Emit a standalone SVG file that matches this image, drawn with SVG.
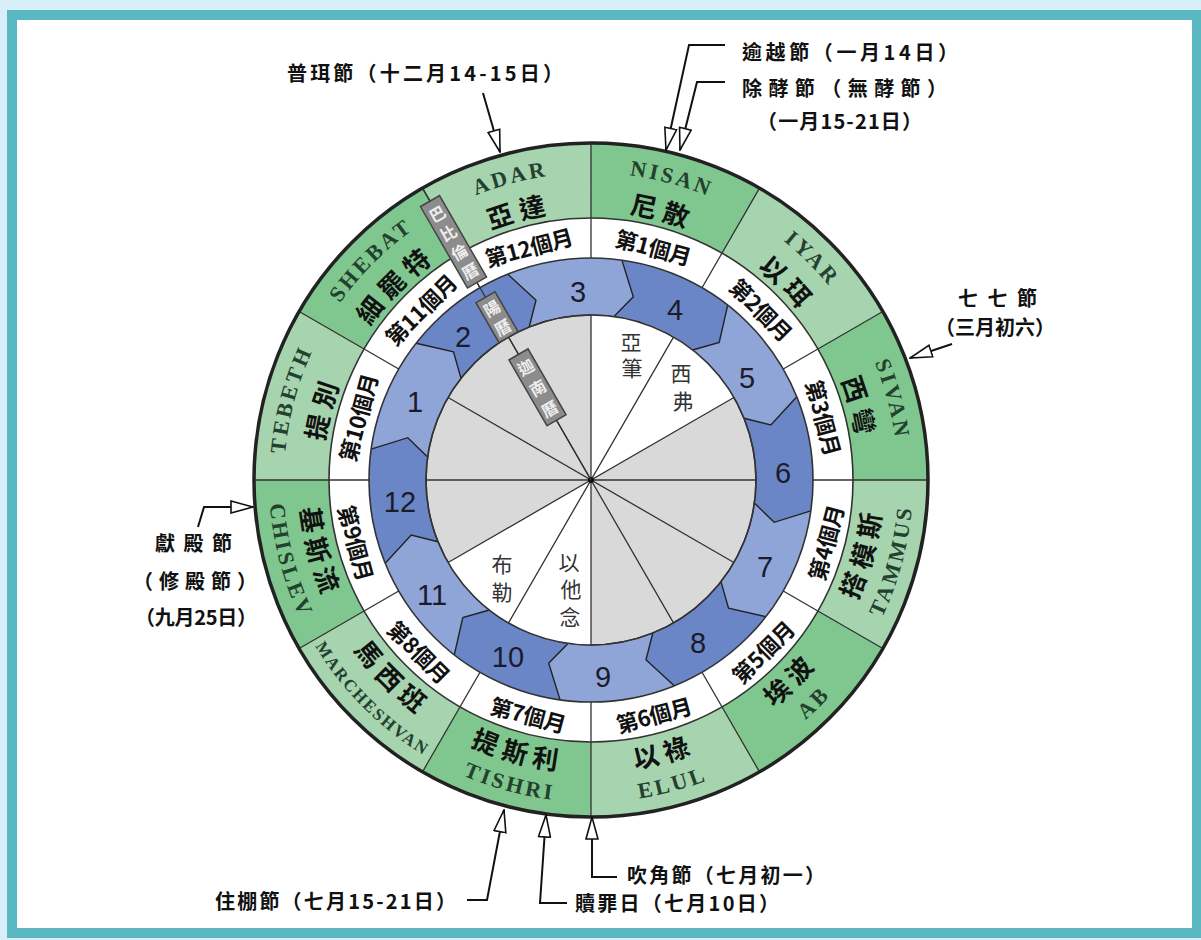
<svg xmlns="http://www.w3.org/2000/svg" width="1201" height="940" viewBox="0 0 1201 940">
<style>
.en{font-family:"Liberation Serif",serif;font-weight:bold;font-size:22px;letter-spacing:3px;fill:#24402e}
.en2{font-family:"Liberation Serif",serif;font-weight:bold;font-size:17px;letter-spacing:2px;fill:#24402e}
.zh{font-family:"Noto Sans CJK TC","Noto Sans CJK SC",sans-serif;font-weight:bold;font-size:26px;letter-spacing:6px;fill:#111}
.mo{font-family:"Noto Sans CJK TC","Noto Sans CJK SC",sans-serif;font-weight:bold;font-size:22px;letter-spacing:-0.5px;fill:#111;text-anchor:middle;dominant-baseline:central}
.num{font-family:"Liberation Sans",sans-serif;font-size:29px;fill:#1b1b2b;text-anchor:middle}
.cn{font-family:"Noto Sans CJK TC","Noto Sans CJK SC",sans-serif;font-size:21px;fill:#333;text-anchor:middle;dominant-baseline:central}
.ann{font-family:"Noto Sans CJK TC","Noto Sans CJK SC",sans-serif;font-weight:bold;font-size:20px;fill:#111}
.bx{fill:#8c8c8c;stroke:#444;stroke-width:1.5}
.bxt{font-family:"Noto Sans CJK TC","Noto Sans CJK SC",sans-serif;font-weight:bold;font-size:16px;fill:#eee;text-anchor:middle;dominant-baseline:central}
.ln{stroke:#333;stroke-width:1.3;fill:none}
.dk{fill:#7fc78f}
.bd{fill:#6a86c6}
.seg{fill:none;stroke:#222;stroke-width:1.4}
.con{fill:none;stroke:#111;stroke-width:2}
</style>
<defs>
<marker id="oa" viewBox="0 0 24 14" refX="23" refY="7" markerWidth="24" markerHeight="14" markerUnits="userSpaceOnUse" orient="auto">
<path d="M1,1 L23,7 L1,13 Z" fill="#fff" stroke="#111" stroke-width="1.6"/>
</marker>
<path id="eTEBETH" d="M284,480 A307,307 0 0 1 325.13,326.5"/>
<path id="eSHEBAT" d="M325.13,326.5 A307,307 0 0 1 437.5,214.13"/>
<path id="eADAR" d="M437.5,214.13 A307,307 0 0 1 591,173"/>
<path id="eNISAN" d="M591,173 A307,307 0 0 1 744.5,214.13"/>
<path id="eIYAR" d="M744.5,214.13 A307,307 0 0 1 856.87,326.5"/>
<path id="eSIVAN" d="M856.87,326.5 A307,307 0 0 1 898,480"/>
<path id="cTEBETH" d="M322,480 A269,269 0 0 1 358.04,345.5"/>
<path id="cSHEBAT" d="M358.04,345.5 A269,269 0 0 1 456.5,247.04"/>
<path id="cADAR" d="M456.5,247.04 A269,269 0 0 1 591,211"/>
<path id="cNISAN" d="M591,211 A269,269 0 0 1 725.5,247.04"/>
<path id="cIYAR" d="M725.5,247.04 A269,269 0 0 1 823.96,345.5"/>
<path id="cSIVAN" d="M823.96,345.5 A269,269 0 0 1 860,480"/>
<path id="eTAMMUS" d="M869.86,641 A322,322 0 0 0 913,480"/>
<path id="eAB" d="M752,758.86 A322,322 0 0 0 869.86,641"/>
<path id="eELUL" d="M591,802 A322,322 0 0 0 752,758.86"/>
<path id="eTISHRI" d="M430,758.86 A322,322 0 0 0 591,802"/>
<path id="eMARCH" d="M312.14,641 A322,322 0 0 0 430,758.86"/>
<path id="eCHISLEV" d="M269,480 A322,322 0 0 0 312.14,641"/>
<path id="cTAMMUS" d="M843.88,626 A292,292 0 0 0 883,480"/>
<path id="cAB" d="M737,732.88 A292,292 0 0 0 843.88,626"/>
<path id="cELUL" d="M591,772 A292,292 0 0 0 737,732.88"/>
<path id="cTISHRI" d="M445,732.88 A292,292 0 0 0 591,772"/>
<path id="cMARCH" d="M338.12,626 A292,292 0 0 0 445,732.88"/>
<path id="cCHISLEV" d="M299,480 A292,292 0 0 0 338.12,626"/>
</defs>

<g id="frame">
<rect width="1201" height="940" fill="#d8eef8"/>
<rect x="7" y="10" width="1194" height="928" fill="#5ab8c3"/>
<rect x="17" y="20" width="1175" height="908" fill="#fff"/>
</g>

<g id="wheel-base">
<circle cx="591" cy="480" r="337" fill="#a6d4ae"/>
<path class="dk" d="M591,143 A337,337 0 0 1 759.5,188.16 L722,253.1 A262,262 0 0 0 591,218 Z"/>
<path class="dk" d="M882.84,311.5 A337,337 0 0 1 928,480 L853,480 A262,262 0 0 0 817.9,349 Z"/>
<path class="dk" d="M882.84,648.5 A337,337 0 0 1 759.5,771.84 L722,706.9 A262,262 0 0 0 817.9,611 Z"/>
<path class="dk" d="M591,817 A337,337 0 0 1 422.5,771.84 L460,706.9 A262,262 0 0 0 591,742 Z"/>
<path class="dk" d="M299.16,648.5 A337,337 0 0 1 254,480 L329,480 A262,262 0 0 0 364.1,611 Z"/>
<path class="dk" d="M299.16,311.5 A337,337 0 0 1 422.5,188.16 L460,253.1 A262,262 0 0 0 364.1,349 Z"/>
<circle cx="591" cy="480" r="262" fill="#fff"/>
<circle cx="591" cy="480" r="222" fill="#8fa5d8"/>
<path class="bd" d="M621.9,260.15 A222,222 0 0 1 727.7,305.1 L719.2,342.5 L692.6,350 A165,165 0 0 0 614,316.6 L633.3,296.8 Z"/>
<path class="bd" d="M796.8,396.8 A222,222 0 0 1 810.85,510.9 L774.2,522.3 L754.4,503 A165,165 0 0 0 744,418.2 L770.8,425 Z"/>
<path class="bd" d="M765.9,616.7 A222,222 0 0 1 674.2,685.8 L646,659.8 L652.8,633 A165,165 0 0 0 721,581.6 L728.5,608.2 Z"/>
<path class="bd" d="M560.1,699.85 A222,222 0 0 1 454.3,654.9 L462.8,617.5 L489.4,610 A165,165 0 0 0 568,643.4 L548.7,663.2 Z"/>
<path class="bd" d="M385.2,563.2 A222,222 0 0 1 371.15,449.1 L407.8,437.7 L427.6,457 A165,165 0 0 0 438,541.8 L411.2,535 Z"/>
<path class="bd" d="M416.1,343.3 A222,222 0 0 1 507.8,274.2 L536,300.2 L529.2,327 A165,165 0 0 0 461,378.4 L453.5,351.8 Z"/>
<polyline class="seg" points="621.9,260.15 633.3,296.8 614,316.6"/>
<polyline class="seg" points="727.7,305.1 719.2,342.5 692.6,350"/>
<polyline class="seg" points="796.8,396.8 770.8,425 744,418.2"/>
<polyline class="seg" points="810.85,510.9 774.2,522.3 754.4,503"/>
<polyline class="seg" points="765.9,616.7 728.5,608.2 721,581.6"/>
<polyline class="seg" points="674.2,685.8 646,659.8 652.8,633"/>
<polyline class="seg" points="560.1,699.85 548.7,663.2 568,643.4"/>
<polyline class="seg" points="454.3,654.9 462.8,617.5 489.4,610"/>
<polyline class="seg" points="385.2,563.2 411.2,535 438,541.8"/>
<polyline class="seg" points="371.15,449.1 407.8,437.7 427.6,457"/>
<polyline class="seg" points="416.1,343.3 453.5,351.8 461,378.4"/>
<polyline class="seg" points="507.8,274.2 536,300.2 529.2,327"/>
<circle cx="591" cy="480" r="165" fill="#d9d9d9" stroke="#333" stroke-width="1.5"/>
<path d="M591,480 L591,315 A165,165 0 0 1 733.9,397.5 Z" fill="#fff"/>
<path d="M591,480 L591,645 A165,165 0 0 1 448.1,562.5 Z" fill="#fff"/>
<circle cx="591" cy="480" r="165" fill="none" stroke="#333" stroke-width="1.5"/>
<path class="ln" d="M591,315 L591,645 M673.5,337.1 L508.5,622.9 M733.9,397.5 L448.1,562.5 M756,480 L426,480 M733.9,562.5 L448.1,397.5 M673.5,622.9 L508.5,337.1"/>
<circle cx="591" cy="480" r="3" fill="#111"/>
<circle cx="591" cy="480" r="222" fill="none" stroke="#333" stroke-width="1.6"/>
<circle cx="591" cy="480" r="262" fill="none" stroke="#333" stroke-width="1.6"/>
<path class="ln" d="M591,258 L591,143 M702,287.75 L759.5,188.16 M783.25,369 L882.84,311.5 M813,480 L928,480 M783.25,591 L882.84,648.5 M702,672.25 L759.5,771.84 M591,702 L591,817 M480,672.25 L422.5,771.84 M398.75,591 L299.16,648.5 M369,480 L254,480 M398.75,369 L299.16,311.5 M480,287.75 L422.5,188.16"/>
<path class="ln" d="M591,480 L422.5,188.16"/>
<circle cx="591" cy="480" r="337" fill="none" stroke="#222" stroke-width="3.5"/>
</g>

<g id="month-nisan"><text class="en"><textPath href="#eNISAN" startOffset="50%" text-anchor="middle">NISAN</textPath></text><text class="zh"><textPath href="#cNISAN" startOffset="50%" text-anchor="middle">尼散</textPath></text></g>
<g id="month-iyar"><text class="en"><textPath href="#eIYAR" startOffset="50%" text-anchor="middle">IYAR</textPath></text><text class="zh"><textPath href="#cIYAR" startOffset="50%" text-anchor="middle">以珥</textPath></text></g>
<g id="month-sivan"><text class="en"><textPath href="#eSIVAN" startOffset="50%" text-anchor="middle">SIVAN</textPath></text><text class="zh"><textPath href="#cSIVAN" startOffset="50%" text-anchor="middle">西彎</textPath></text></g>
<g id="month-tammus"><text class="en"><textPath href="#eTAMMUS" startOffset="50%" text-anchor="middle">TAMMUS</textPath></text><text class="zh"><textPath href="#cTAMMUS" startOffset="50%" text-anchor="middle">搭模斯</textPath></text></g>
<g id="month-ab"><text class="en"><textPath href="#eAB" startOffset="50%" text-anchor="middle">AB</textPath></text><text class="zh"><textPath href="#cAB" startOffset="50%" text-anchor="middle">埃波</textPath></text></g>
<g id="month-elul"><text class="en"><textPath href="#eELUL" startOffset="50%" text-anchor="middle">ELUL</textPath></text><text class="zh"><textPath href="#cELUL" startOffset="50%" text-anchor="middle">以祿</textPath></text></g>
<g id="month-tishri"><text class="en"><textPath href="#eTISHRI" startOffset="50%" text-anchor="middle">TISHRI</textPath></text><text class="zh"><textPath href="#cTISHRI" startOffset="50%" text-anchor="middle">提斯利</textPath></text></g>
<g id="month-marcheshvan"><text class="en2"><textPath href="#eMARCH" startOffset="50%" text-anchor="middle">MARCHESHVAN</textPath></text><text class="zh"><textPath href="#cMARCH" startOffset="50%" text-anchor="middle">馬西班</textPath></text></g>
<g id="month-chislev"><text class="en"><textPath href="#eCHISLEV" startOffset="50%" text-anchor="middle">CHISLEV</textPath></text><text class="zh"><textPath href="#cCHISLEV" startOffset="50%" text-anchor="middle">基斯流</textPath></text></g>
<g id="month-tebeth"><text class="en"><textPath href="#eTEBETH" startOffset="50%" text-anchor="middle">TEBETH</textPath></text><text class="zh"><textPath href="#cTEBETH" startOffset="50%" text-anchor="middle">提別</textPath></text></g>
<g id="month-shebat"><text class="en"><textPath href="#eSHEBAT" startOffset="50%" text-anchor="middle">SHEBAT</textPath></text><text class="zh"><textPath href="#cSHEBAT" startOffset="50%" text-anchor="middle">細罷特</textPath></text></g>
<g id="month-adar"><text class="en"><textPath href="#eADAR" startOffset="50%" text-anchor="middle">ADAR</textPath></text><text class="zh"><textPath href="#cADAR" startOffset="50%" text-anchor="middle">亞達</textPath></text></g>

<g id="ordinal-months">
<text class="mo" transform="translate(653.6,246.2) rotate(15)">第1個月</text>
<text class="mo" transform="translate(762.1,308.9) rotate(45)">第2個月</text>
<text class="mo" transform="translate(824.8,417.4) rotate(75)">第3個月</text>
<text class="mo" transform="translate(824.8,542.6) rotate(-75)">第4個月</text>
<text class="mo" transform="translate(762.1,651.1) rotate(-45)">第5個月</text>
<text class="mo" transform="translate(653.6,713.8) rotate(-15)">第6個月</text>
<text class="mo" transform="translate(528.4,713.8) rotate(15)">第7個月</text>
<text class="mo" transform="translate(419.9,651.1) rotate(45)">第8個月</text>
<text class="mo" transform="translate(357.2,542.6) rotate(75)">第9個月</text>
<text class="mo" transform="translate(357.2,417.4) rotate(-75)">第10個月</text>
<text class="mo" transform="translate(419.9,308.9) rotate(-45)">第11個月</text>
<text class="mo" transform="translate(528.4,246.2) rotate(-15)">第12個月</text>
</g>

<g id="solar-months">
<text class="num" x="415" y="412">1</text>
<text class="num" x="463" y="347">2</text>
<text class="num" x="578" y="302">3</text>
<text class="num" x="675" y="320">4</text>
<text class="num" x="747" y="388">5</text>
<text class="num" x="783" y="483">6</text>
<text class="num" x="765" y="577">7</text>
<text class="num" x="698" y="653">8</text>
<text class="num" x="603" y="687">9</text>
<text class="num" x="508" y="667">10</text>
<text class="num" x="432" y="605">11</text>
<text class="num" x="400" y="512">12</text>
</g>

<g id="canaanite-months">
<text class="cn" x="631" y="341">亞</text><text class="cn" x="632" y="367">筆</text>
<text class="cn" x="681" y="372">西</text><text class="cn" x="683" y="400">弗</text>
<text class="cn" x="502" y="563">布</text><text class="cn" x="502" y="591">勒</text>
<text class="cn" x="569" y="561">以</text><text class="cn" x="571" y="588">他</text><text class="cn" x="570" y="616">念</text>
</g>

<g id="box-babylonian" transform="translate(453.5,241.85) rotate(-30)">
<rect class="bx" x="-11" y="-47" width="22" height="94"/>
<text class="bxt" x="0" y="-33">巴</text><text class="bxt" x="0" y="-11">比</text><text class="bxt" x="0" y="11">倫</text><text class="bxt" x="0" y="33">曆</text>
</g>
<g id="box-solar" transform="translate(497,317.2) rotate(-30)">
<rect class="bx" x="-11" y="-23" width="22" height="46"/>
<text class="bxt" x="0" y="-11">陽</text><text class="bxt" x="0" y="11">曆</text>
</g>
<g id="box-canaanite" transform="translate(537.5,387.3) rotate(-30)">
<rect class="bx" x="-11" y="-38" width="22" height="76"/>
<text class="bxt" x="0" y="-24">迦</text><text class="bxt" x="0" y="0">南</text><text class="bxt" x="0" y="24">曆</text>
</g>

<g id="connectors">
<path class="con" d="M483,93 L500,152" marker-end="url(#oa)"/>
<path class="con" d="M725,45 L689,45 L666,150" marker-end="url(#oa)"/>
<path class="con" d="M725,82 L697,82 L680,150" marker-end="url(#oa)"/>
<path class="con" d="M952,344 L910,358" marker-end="url(#oa)"/>
<path class="con" d="M198,527 L204,507 L253,507" marker-end="url(#oa)"/>
<path class="con" d="M467,900 L487,900 L504,810" marker-end="url(#oa)"/>
<path class="con" d="M567,903 L540,903 L546,815" marker-end="url(#oa)"/>
<path class="con" d="M617,877 L592,877 L592,817" marker-end="url(#oa)"/>
</g>

<g id="ann-purim"><text class="ann" x="287" y="81" textLength="276" lengthAdjust="spacing">普珥節（十二月14-15日）</text></g>
<g id="ann-passover"><text class="ann" x="742" y="60" textLength="216" lengthAdjust="spacing">逾越節（一月14日）</text></g>
<g id="ann-unleavened">
<text class="ann" x="742" y="96" textLength="205" lengthAdjust="spacing">除酵節（無酵節）</text>
<text class="ann" x="757" y="129" textLength="165" lengthAdjust="spacing">（一月15-21日）</text>
</g>
<g id="ann-weeks">
<text class="ann" x="958" y="306" textLength="79" lengthAdjust="spacing">七七節</text>
<text class="ann" x="935" y="335" textLength="120" lengthAdjust="spacing">（三月初六）</text>
</g>
<g id="ann-dedication">
<text class="ann" x="155" y="551" textLength="77" lengthAdjust="spacing">獻殿節</text>
<text class="ann" x="133" y="589" textLength="124" lengthAdjust="spacing">（修殿節）</text>
<text class="ann" x="135" y="625" textLength="122" lengthAdjust="spacing">（九月25日）</text>
</g>
<g id="ann-tabernacles"><text class="ann" x="215" y="909" textLength="241" lengthAdjust="spacing">住棚節（七月15-21日）</text></g>
<g id="ann-atonement"><text class="ann" x="575" y="911" textLength="204" lengthAdjust="spacing">贖罪日（七月10日）</text></g>
<g id="ann-trumpets"><text class="ann" x="627" y="883" textLength="198" lengthAdjust="spacing">吹角節（七月初一）</text></g>
</svg>
